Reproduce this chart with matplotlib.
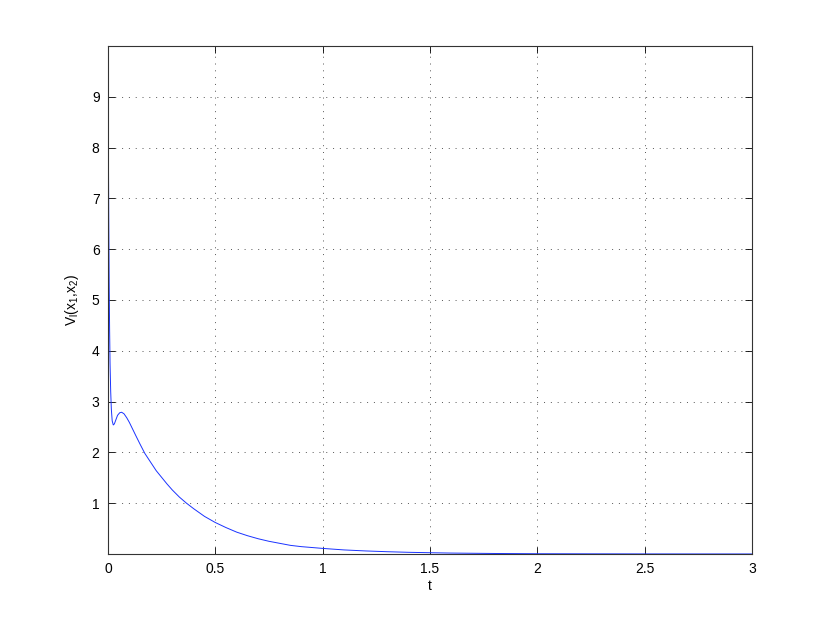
import numpy as np
from matplotlib import pyplot as plt

plt.rcParams['font.family'] = ['Liberation Sans', 'DejaVu Sans']
plt.rcParams['mathtext.default'] = 'regular'

# values
t = [0.0, 0.002, 0.004, 0.006, 0.008, 0.010, 0.013, 0.016, 0.020, 0.025,
     0.030, 0.037, 0.045, 0.055, 0.064, 0.075, 0.088, 0.100, 0.115, 0.130,
     0.150, 0.172, 0.200, 0.225, 0.250, 0.275, 0.300, 0.333, 0.366, 0.400,
     0.450, 0.500, 0.550, 0.600, 0.650, 0.700, 0.750, 0.800, 0.850, 0.900,
     1.000, 1.100, 1.200, 1.300, 1.400, 1.500, 1.600, 1.800, 2.000, 2.250,
     2.500, 2.750, 3.000]
V = [10.0, 8.2, 6.6, 5.3, 4.4, 3.75, 3.2, 2.85, 2.62, 2.54,
     2.56, 2.64, 2.73, 2.78, 2.79, 2.76, 2.68, 2.59, 2.46, 2.33,
     2.16, 1.98, 1.80, 1.64, 1.51, 1.38, 1.26, 1.12, 1.00, 0.89,
     0.74, 0.62, 0.52, 0.43, 0.36, 0.30, 0.25, 0.21, 0.17, 0.145,
     0.11, 0.08, 0.06, 0.045, 0.033, 0.025, 0.018, 0.010, 0.005, 0.003,
     0.0015, 0.0008, 0.0004]

xticks = [0, 0.5, 1, 1.5, 2, 2.5, 3]
xticklabels = ['0', '0.5', '1', '1.5', '2', '2.5', '3']
yticks = [1, 2, 3, 4, 5, 6, 7, 8, 9]

fig = plt.figure(figsize=(8.3, 6.24), dpi=100)
ax = fig.add_axes([0.130, 0.1122, 0.776, 0.8141])
ax.plot(t, V, color=(0.1, 0.2, 1.0), linewidth=0.7)

ax.set_xlim(0, 3)
ax.set_ylim(0, 10)
ax.set_xticks(xticks)
ax.set_xticklabels(xticklabels)
ax.set_yticks(yticks)
ax.tick_params(direction='in', length=5, width=0.6, top=True, right=True,
               labelsize=10, colors='black', pad=6)
for s in ax.spines.values():
    s.set_linewidth(0.8)
    s.set_color('#333333')
ax.grid(True, linestyle=(0, (1, 6)), color='#555555', linewidth=0.7)

ax.set_xlabel('t', fontsize=10, labelpad=2)
ax.set_ylabel('V$_l$(x$_1$,x$_2$)', fontsize=10, labelpad=8)

fig.savefig('out.png', dpi=100)
